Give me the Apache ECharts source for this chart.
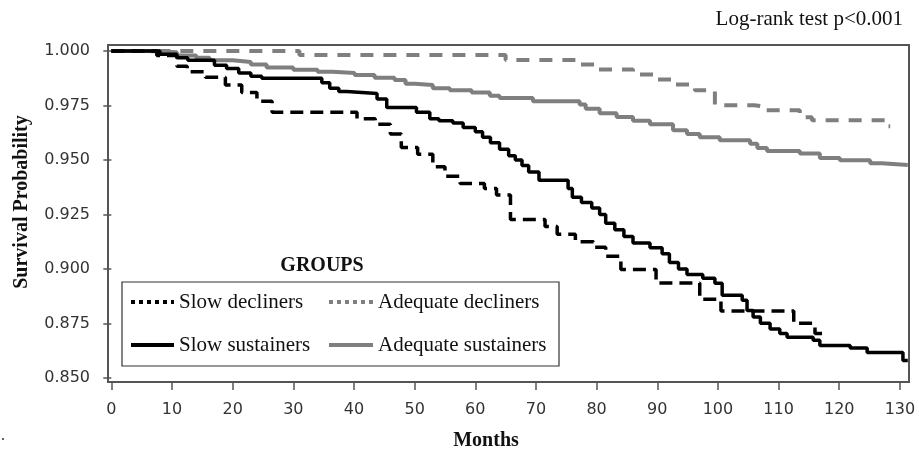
<!DOCTYPE html>
<html>
<head>
<meta charset="utf-8">
<script src="https://cdn.jsdelivr.net/npm/echarts@6/dist/echarts.min.js"></script>
<style>html,body{margin:0;padding:0;background:#fff}#c{width:919px;height:452px}</style>
</head>
<body>
<div id="c"></div>
<script>
const xTicks = [0,10,20,30,40,50,60,70,80,90,100,110,120,130];
const yTicks = [0.850,0.875,0.900,0.925,0.950,0.975,1.000];

const slowDeclinersMonths = [0,7.5,10.8,12.5,15.5,18.8,21.5,24,26.5,40.5,43.5,46,47.8,50.5,53,55,57.5,61.5,63.5,65.8,71.5,73.5,76.5,79.5,81.5,84,89.8,97,100.5,112.5,116,117.5];
const slowDeclinersSurv = [1.000,0.998,0.993,0.9905,0.988,0.9845,0.981,0.977,0.972,0.969,0.9665,0.962,0.9558,0.9527,0.947,0.9426,0.9393,0.937,0.934,0.9227,0.9195,0.916,0.9125,0.910,0.9059,0.8998,0.8936,0.8862,0.8808,0.8751,0.8705,0.8705];

const slowSustainersMonths = [0,8,10.8,12.6,17,19,21,23,24.8,34.7,36,37.5,38.8,43.8,45.4,50.3,52.5,54,56.3,58,60,61.2,62.5,64,65.5,66.6,67.7,68.8,70.5,75.3,76,77.5,79.2,80.5,81.5,83,84.5,86,88.8,90.8,92,93.5,94.9,97.5,99.5,100.7,104,104.8,105.8,107,108.6,110.2,111.4,115.7,116.8,121.8,124.6,130.5,131.3];
const slowSustainersSurv = [1.000,0.9985,0.997,0.9958,0.9935,0.992,0.990,0.9885,0.9875,0.9855,0.983,0.9815,0.9806,0.978,0.9741,0.972,0.969,0.968,0.967,0.965,0.963,0.9605,0.958,0.955,0.952,0.950,0.9475,0.9445,0.9407,0.937,0.933,0.9305,0.928,0.925,0.921,0.918,0.915,0.912,0.9098,0.907,0.903,0.900,0.8975,0.8958,0.8935,0.888,0.8857,0.881,0.878,0.8751,0.8725,0.8705,0.8687,0.8673,0.865,0.8638,0.8617,0.8581,0.8581];

const adequateDeclinersMonths = [0,31,65,77,79.7,86,89.6,93,96.2,99.5,106,107.7,113.5,115.5,127.5,128.4];
const adequateDeclinersSurv = [1.000,0.9982,0.9959,0.9939,0.9916,0.9893,0.987,0.9847,0.982,0.9752,0.9745,0.9729,0.9697,0.9683,0.9655,0.9655];

const adequateSustainersMonths = [0,6,10.8,14,16.2,20,23,25.6,30,34,36.5,40.1,43.4,46.7,48.5,50,53,55.8,59.4,62.4,64,69.5,77.2,78.2,80.5,83.3,86,88.8,92.6,94.9,97,100.3,105.3,106.5,108.1,113.5,116.8,120.1,125.1,127,131.3];
const adequateSustainersSurv = [1.000,0.9995,0.998,0.997,0.9958,0.995,0.9938,0.9925,0.9915,0.9905,0.990,0.989,0.9878,0.9867,0.985,0.9844,0.983,0.982,0.981,0.9795,0.9785,0.977,0.9755,0.9735,0.9715,0.9698,0.968,0.9665,0.9637,0.962,0.9605,0.9591,0.9575,0.9555,0.9542,0.953,0.951,0.9499,0.9486,0.9477,0.9477];

const zip = (a, b) => a.map((m, i) => [m, b[i]]);
const GREY = '#7f7f7f';
const SERIF = '"Liberation Serif", "Times New Roman", serif';
const SANS = '"DejaVu Sans", Verdana, sans-serif';

const chart = echarts.init(document.getElementById('c'), null, {renderer: 'canvas'});
const legendText = {fontFamily: SERIF, fontSize: 21, color: '#111', lineHeight: 22};
const noSym = {opacity: 0};
chart.setOption({
  animation: false,
  backgroundColor: '#fff',
  grid: {left: 108, right: 10, top: 45, bottom: 70, show: true, borderColor: '#555', borderWidth: 2, backgroundColor: 'transparent'},
  xAxis: {
    type: 'value', min: -0.55, max: 131.5,
    axisLine: {show: false},
    splitLine: {show: false},
    axisTick: {show: true, length: 8, lineStyle: {color: '#555', width: 1.5}, customValues: xTicks},
    axisLabel: {customValues: xTicks, fontFamily: SANS, fontSize: 16, color: '#333', margin: 20}
  },
  yAxis: {
    type: 'value', min: 0.8482, max: 1.0028,
    axisLine: {show: false},
    splitLine: {show: false},
    axisTick: {show: true, length: 8, lineStyle: {color: '#555', width: 1.5}, customValues: yTicks},
    axisLabel: {customValues: yTicks, fontFamily: SANS, fontSize: 16, color: '#333', margin: 18,
      formatter: v => Number(v).toFixed(3)}
  },
  legend: [
    {orient: 'vertical', left: 124, top: 286, itemWidth: 43, itemHeight: 14, itemGap: 21, z: 20,
     textStyle: legendText,
     data: [
       {name: 'Slow decliners', itemStyle: noSym, lineStyle: {type: [4, 4], width: 4, color: '#000'}},
       {name: 'Slow sustainers', itemStyle: noSym, lineStyle: {type: 'solid', width: 4, color: '#000'}}
     ]},
    {orient: 'vertical', left: 322, top: 286, itemWidth: 44, itemHeight: 14, itemGap: 21, z: 20,
     textStyle: legendText,
     data: [
       {name: 'Adequate decliners', itemStyle: noSym, lineStyle: {type: [4, 4], width: 4, color: GREY}},
       {name: 'Adequate sustainers', itemStyle: noSym, lineStyle: {type: 'solid', width: 4, color: GREY}}
     ]}
  ],
  series: [
    {name: 'Adequate sustainers', type: 'line', step: 'end', symbol: 'none', z: 2, data: zip(adequateSustainersMonths, adequateSustainersSurv),
     lineStyle: {color: GREY, width: 4, type: 'solid'}, itemStyle: {color: GREY}},
    {name: 'Adequate decliners', type: 'line', step: 'end', symbol: 'none', z: 2, data: zip(adequateDeclinersMonths, adequateDeclinersSurv),
     lineStyle: {color: GREY, width: 4, type: [13, 10]}, itemStyle: {color: GREY}},
    {name: 'Slow decliners', type: 'line', step: 'end', symbol: 'none', z: 2, data: zip(slowDeclinersMonths, slowDeclinersSurv),
     lineStyle: {color: '#000', width: 3.5, type: [13, 7]}, itemStyle: {color: '#000'}},
    {name: 'Slow sustainers', type: 'line', step: 'end', symbol: 'none', z: 2, data: zip(slowSustainersMonths, slowSustainersSurv),
     lineStyle: {color: '#000', width: 3.5, type: 'solid'}, itemStyle: {color: '#000'}}
  ],
  graphic: [
    {type: 'rect', z: 3, shape: {x: 122, y: 282, width: 437, height: 84}, style: {fill: '#fff', stroke: '#333', lineWidth: 1.2}},
    {type: 'text', z: 10, x: 322, y: 266, style: {text: 'GROUPS', font: 'bold 20px ' + SERIF, fill: '#111', textAlign: 'center', textVerticalAlign: 'middle'}},
    {type: 'text', z: 10, x: 903, y: 19, style: {text: 'Log-rank test p<0.001', font: '21px ' + SERIF, fill: '#111', textAlign: 'right', textVerticalAlign: 'middle'}},
    {type: 'text', z: 10, x: 486, y: 441, style: {text: 'Months', font: 'bold 20px ' + SERIF, fill: '#111', textAlign: 'center', textVerticalAlign: 'middle'}},
    {type: 'text', z: 10, x: 22, y: 202, rotation: Math.PI / 2, style: {text: 'Survival Probability', font: 'bold 20px ' + SERIF, fill: '#111', textAlign: 'center', textVerticalAlign: 'middle'}},
    {type: 'text', z: 10, x: 3, y: 436, style: {text: '.', font: '16px ' + SERIF, fill: '#333', textAlign: 'center', textVerticalAlign: 'middle'}}
  ]
});
</script>
</body>
</html>
